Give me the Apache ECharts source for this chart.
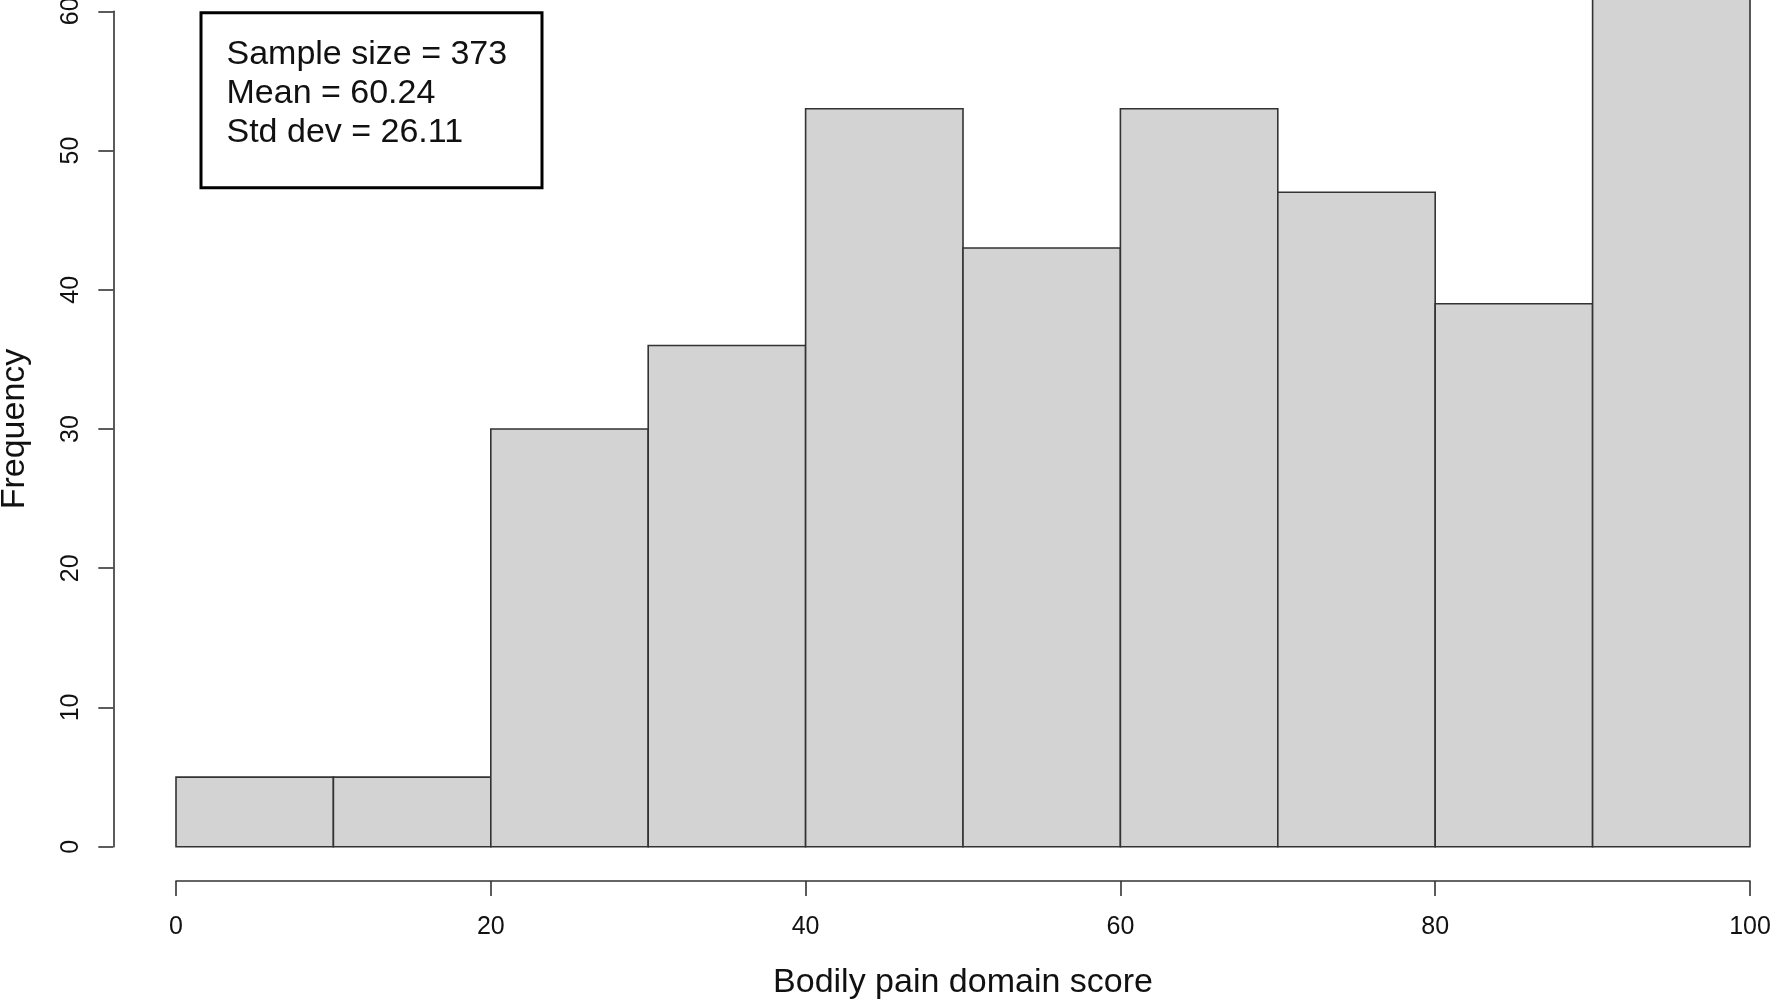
<!DOCTYPE html>
<html>
<head>
<meta charset="utf-8">
<script src="https://cdn.jsdelivr.net/npm/echarts@6/dist/echarts.min.js"></script>
<style>
  html, body { margin: 0; padding: 0; background: #ffffff; }
  #chart { width: 1770px; height: 1001px; }
</style>
</head>
<body>
<div id="chart"></div>
<script>
// ---- data ----
const binStarts = [0, 10, 20, 30, 40, 50, 60, 70, 80, 90];
const binEnds   = [10, 20, 30, 40, 50, 60, 70, 80, 90, 100];
const counts    = [5, 5, 30, 36, 53, 43, 53, 47, 39, 62];
const xTicks    = [0, 20, 40, 60, 80, 100];
const yTicks    = [0, 10, 20, 30, 40, 50, 60];
const sampleSize = 373;
const meanValue  = '60.24';
const stdDev     = '26.11';
const xTitle = 'Bodily pain domain score';
const yTitle = 'Frequency';

const FONT = '"Liberation Sans", Arial, sans-serif';
const AX = '#333333';

const histData = binStarts.map((s, i) => [s, binEnds[i], counts[i]]);

const chart = echarts.init(document.getElementById('chart'), null, { renderer: 'canvas' });

const option = {
  backgroundColor: '#ffffff',
  animation: false,
  grid: { left: 176, right: 20, top: 11.3, bottom: 154.3, containLabel: false, outerBoundsMode: 'none' },
  xAxis: {
    type: 'value',
    min: xTicks[0], max: xTicks[xTicks.length - 1], interval: 20,
    offset: 34.3,
    splitLine: { show: false },
    axisLine: { show: true, onZero: false, lineStyle: { color: AX, width: 1.6 } },
    axisTick: { show: true, length: 15, lineStyle: { color: AX, width: 1.6 } },
    axisLabel: { show: true, margin: 34, fontSize: 25, color: '#111', fontFamily: FONT, showMinLabel: true, showMaxLabel: true, hideOverlap: false },
    name: xTitle,
    nameLocation: 'middle',
    nameGap: 85,
    nameTextStyle: { fontSize: 34, color: '#111', fontFamily: FONT }
  },
  yAxis: {
    type: 'value',
    min: yTicks[0], max: yTicks[yTicks.length - 1], interval: 10,
    offset: 62.7,
    splitLine: { show: false },
    axisLine: { show: true, onZero: false, lineStyle: { color: AX, width: 1.6 } },
    axisTick: { show: true, length: 15, lineStyle: { color: AX, width: 1.6 } },
    axisLabel: { show: true, rotate: 90, margin: 30, fontSize: 25, color: '#111', fontFamily: FONT, showMinLabel: true, showMaxLabel: true, hideOverlap: false },
    name: yTitle,
    nameLocation: 'middle',
    nameGap: 82,
    nameTextStyle: { fontSize: 34, color: '#111', fontFamily: FONT }
  },
  graphic: [
    {
      type: 'rect',
      shape: { x: 201, y: 12.7, width: 341, height: 175 },
      style: { fill: 'rgba(255,255,255,0)', stroke: '#000', lineWidth: 3 },
      z: 10
    },
    {
      type: 'text',
      x: 226.5, y: 35.5,
      style: {
        text: 'Sample size = ' + sampleSize + '\nMean = ' + meanValue + '\nStd dev = ' + stdDev,
        font: '34px ' + FONT,
        fill: '#111',
        lineHeight: 39,
        verticalAlign: 'top',
        align: 'left'
      },
      z: 10
    }
  ],
  series: [{
    type: 'custom',
    clip: false,
    data: histData,
    renderItem: function (params, api) {
      const p0 = api.coord([api.value(0), 0]);
      const p1 = api.coord([api.value(1), api.value(2)]);
      return {
        type: 'rect',
        shape: { x: p0[0], y: p1[1], width: p1[0] - p0[0], height: p0[1] - p1[1] },
        style: { fill: '#d3d3d3', stroke: '#333333', lineWidth: 1.6 }
      };
    }
  }]
};
chart.setOption(option);
</script>
</body>
</html>
